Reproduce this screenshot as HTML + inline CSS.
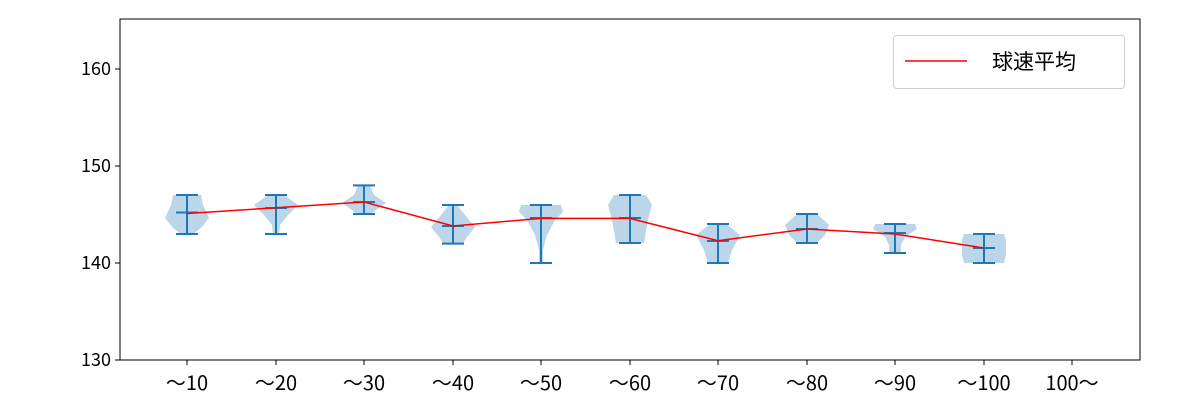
<!DOCTYPE html>
<html><head><meta charset="utf-8"><style>
body{margin:0;background:#fff}
text{font-family:"Noto Sans CJK JP","Liberation Sans",sans-serif;fill:#000}
</style></head><body>
<svg width="1200" height="400" viewBox="0 0 1200 400">
<g fill="#1f77b4" fill-opacity="0.3" stroke="none">
<polygon points="201,195 203,205 209,218 201,228 193,234 181,234 173,228 165,218 171,205 173,195"/>
<polygon points="284,195 298,205 288,215 280,225 279,234 273,234 272,225 264,215 254,205 268,195"/>
<polygon points="370,185 374,195 386,203 376,210 372,214 356,214 352,210 342,203 354,195 358,185"/>
<polygon points="457,205 465,215 475,227 467,237 463,243 443,243 439,237 431,227 441,215 449,205"/>
<polygon points="561,205 563,212 555,220 547,235 543,250 543,263 539,263 539,250 535,235 527,220 519,212 521,205"/>
<polygon points="646,195 652,205 648,220 644,243 616,243 612,220 608,205 614,195"/>
<polygon points="726,224 740,235 732,250 728,263 708,263 704,250 696,235 710,224"/>
<polygon points="817,214 829,225 825,235 817,243 797,243 789,235 785,225 797,214"/>
<polygon points="915,224 917,229 905,237 901,245 901,253 889,253 889,245 885,237 873,229 875,224"/>
<polygon points="1004,234 1006,240 1006,255 1004,263 964,263 962,255 962,240 964,234"/>
</g>
<g stroke="#1f77b4" stroke-width="2" fill="none">
<path d="M187,195V234M176,195H198M176,234H198M176,212.5H198"/>
<path d="M276,195V234M265,195H287M265,234H287M265,208H287"/>
<path d="M364,185.4V214M353,185.4H375M353,214H375M353,202H375"/>
<path d="M453,205V243.6M442,205H464M442,243.6H464M442,226H464"/>
<path d="M541,205V263M530,205H552M530,263H552M530,218H552"/>
<path d="M630,195V243M619,195H641M619,243H641M619,218H641"/>
<path d="M718,224V263M707,224H729M707,263H729M707,241H729"/>
<path d="M807,214V243M796,214H818M796,243H818M796,229H818"/>
<path d="M895,224V253M884,224H906M884,253H906M884,233H906"/>
<path d="M984,234V263M973,234H995M973,263H995M973,248H995"/>
</g>
<polyline fill="none" stroke="#ff0000" stroke-width="1.5" points="187,213.5 276,207.7 364,202 453,226 541,218.4 630,218.4 718,240.7 807,229 895,234 984,248"/>
<rect x="120" y="19" width="1020" height="341" fill="none" stroke="#000" stroke-width="1"/>
<g stroke="#000" stroke-width="1">
<path d="M115,360H120M115,263H120M115,166H120M115,69H120"/>
<path d="M187,360v5M276,360v5M364,360v5M453,360v5M541,360v5M630,360v5M718,360v5M807,360v5M895,360v5M984,360v5M1072,360v5"/>
</g>
<g font-size="18" text-anchor="end">
<text x="111" y="366">130</text><text x="111" y="269">140</text><text x="111" y="172">150</text><text x="111" y="75">160</text>
</g>
<g font-size="20" text-anchor="middle">
<text x="187" y="390">～10</text><text x="276" y="390">～20</text><text x="364" y="390">～30</text><text x="453" y="390">～40</text><text x="541" y="390">～50</text><text x="630" y="390">～60</text><text x="718" y="390">～70</text><text x="807" y="390">～80</text><text x="895" y="390">～90</text><text x="984" y="390">～100</text><text x="1072" y="390">100～</text>
</g>
<rect x="893.5" y="35.5" width="231" height="53" rx="3" fill="#fff" stroke="#ccc"/>
<line x1="905" y1="61" x2="967" y2="61" stroke="#ff0000" stroke-width="1.5"/>
<text x="992" y="69" font-size="21">球速平均</text>
</svg>
</body></html>
